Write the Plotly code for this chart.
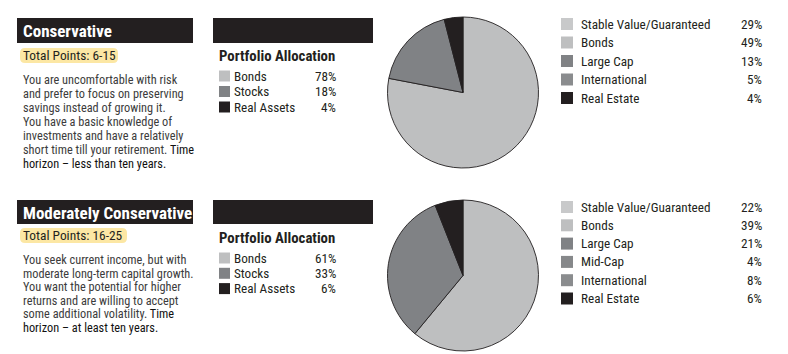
import plotly.graph_objects as go

W, H = 788, 354

# ---------------- data ----------------
profile_titles = ["Conservative", "Moderately Conservative"]
profile_points = ["Total Points: 6-15", "Total Points: 16-25"]

conservative_text = [
    "You are uncomfortable with risk",
    "and prefer to focus on preserving",
    "savings instead of growing it.",
    "You have a basic knowledge of",
    "investments and have a relatively",
    "short time till your retirement. <b2>Time</b2>",
    "<b2>horizon – less than ten years.</b2>",
]
moderate_text = [
    "You seek current income, but with",
    "moderate long-term capital growth.",
    "You want the potential for higher",
    "returns and are willing to accept",
    "some additional volatility. <b2>Time</b2>",
    "<b2>horizon – at least ten years.</b2>",
]

alloc_labels = ["Bonds", "Stocks", "Real Assets"]
conservative_alloc = [78, 18, 4]
moderate_alloc = [61, 33, 6]

conservative_detail_labels = ["Stable Value/Guaranteed", "Bonds", "Large Cap", "International", "Real Estate"]
conservative_detail_values = [29, 49, 13, 5, 4]
moderate_detail_labels = ["Stable Value/Guaranteed", "Bonds", "Large Cap", "Mid-Cap", "International", "Real Estate"]
moderate_detail_values = [22, 39, 21, 4, 8, 6]

# ---------------- styles ----------------
FONT = "'Roboto Condensed', 'Liberation Sans', sans-serif"
DARK = "#231f20"
LIGHT = "#bebfc0"
MID = "#808285"
alloc_colors = [LIGHT, MID, DARK]
detail_colors_1 = ["#c8c9ca", LIGHT, MID, "#8a8c8e", DARK]
detail_colors_2 = ["#c8c9ca", LIGHT, MID, "#86888a", "#8a8c8e", DARK]
YELLOW = "#fce7a4"
BODY = "#3c3c3c"

shapes = []
annotations = []


def txt(x, y, s, size, color=BODY, bold=False, xanchor="left"):
    if bold:
        s = "<b>" + s + "</b>"
    annotations.append(dict(
        x=x, y=y, xref="x", yref="y", text=s, showarrow=False,
        xanchor=xanchor, yanchor="middle", borderpad=0,
        font=dict(family=FONT, size=size, color=color),
    ))


def rect(x0, y0, x1, y1, color):
    shapes.append(dict(type="rect", xref="x", yref="y", x0=x0, y0=y0, x1=x1, y1=y1,
                       fillcolor=color, line=dict(width=0), layer="below"))


def rounded(x0, y0, x1, y1, r, color):
    p = (f"M {x0+r},{y0} L {x1-r},{y0} Q {x1},{y0} {x1},{y0+r} L {x1},{y1-r} "
         f"Q {x1},{y1} {x1-r},{y1} L {x0+r},{y1} Q {x0},{y1} {x0},{y1-r} "
         f"L {x0},{y0+r} Q {x0},{y0} {x0+r},{y0} Z")
    shapes.append(dict(type="path", xref="x", yref="y", path=p,
                       fillcolor=color, line=dict(width=0), layer="below"))


def section(title, points, pts_w, lines, line_y0, line_dy, alloc, details, dvals, dcolors,
            bar_y0, bar_y1, yel_y0, yel_y1, pa_y, leg_y0, leg_dy, det_y0, det_dy):
    # header bar
    rect(17, bar_y0, 193, bar_y1, DARK)
    txt(22, (bar_y0 + bar_y1) / 2 + 0.5, title, 17, "white", bold=True)
    # yellow highlight
    rounded(20, yel_y0, 20 + pts_w, yel_y1, 5, YELLOW)
    txt(22, (yel_y0 + yel_y1) / 2, points, 13.4, DARK)
    # body text
    for i, ln in enumerate(lines):
        s = ln.replace("<b2>", "<span style='color:#111111'>").replace("</b2>", "</span>")
        txt(22, line_y0 + i * line_dy, s, 12.3, BODY)
    # mid bar
    rect(213, bar_y0, 373, bar_y1, DARK)
    txt(218, pa_y, "Portfolio Allocation", 14.8, DARK, bold=True)
    for i, (lab, v) in enumerate(zip(alloc_labels, alloc)):
        y = leg_y0 + i * leg_dy
        rect(219, y - 5.5, 230, y + 5.5, alloc_colors[i])
        txt(233, y, lab, 13.2, DARK)
        txt(337, y, f"{v}%", 13.2, DARK, xanchor="right")
    # detail legend
    for i, (lab, v) in enumerate(zip(details, dvals)):
        y = det_y0 + i * det_dy
        rect(561, y - 6, 573, y + 6, dcolors[i])
        txt(580, y, lab, 13.2, DARK)
        txt(763, y, f"{v}%", 13.2, DARK, xanchor="right")


section(profile_titles[0], profile_points[0], 98, conservative_text, 80, 14, conservative_alloc,
        conservative_detail_labels, conservative_detail_values, detail_colors_1,
        18, 43, 48, 63, 56, 76, 15.5, 24, 18.5)
section(profile_titles[1], profile_points[1], 107, moderate_text, 260, 13.6, moderate_alloc,
        moderate_detail_labels, moderate_detail_values, detail_colors_2,
        200, 224, 228, 243, 238, 258, 15.3, 207, 18.3)

fig = go.Figure()


def pie(values, y_top, y_bot):
    fig.add_trace(go.Pie(
        labels=alloc_labels, values=values, sort=False, direction="clockwise", rotation=0,
        marker=dict(colors=alloc_colors, line=dict(color=DARK, width=0.9)),
        textinfo="none", hoverinfo="skip", showlegend=False,
        domain=dict(x=[387 / W, 539 / W], y=[1 - y_bot / H, 1 - y_top / H]),
    ))


pie(conservative_alloc, 17, 168)
pie(moderate_alloc, 200, 351)

# invisible pixel-space axes for annotations/shapes
fig.add_trace(go.Scatter(x=[0, W], y=[0, H], mode="markers", marker=dict(opacity=0),
                         hoverinfo="skip", showlegend=False))

fig.update_layout(
    width=W, height=H, margin=dict(l=0, r=0, t=0, b=0),
    paper_bgcolor="white", plot_bgcolor="white",
    xaxis=dict(range=[0, W], visible=False, fixedrange=True, domain=[0, 1]),
    yaxis=dict(range=[H, 0], visible=False, fixedrange=True, domain=[0, 1]),
    shapes=shapes, annotations=annotations, showlegend=False,
)

fig.write_html("out.html")
